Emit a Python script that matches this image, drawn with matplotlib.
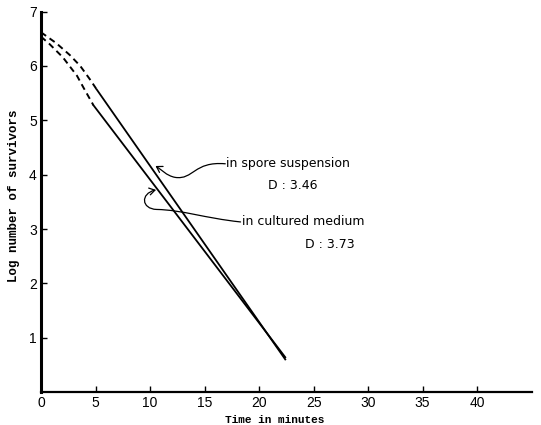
import numpy as np
import matplotlib
matplotlib.use("Agg")
import matplotlib.pyplot as plt
from matplotlib.path import Path
from matplotlib.patches import FancyArrowPatch

# spore suspension curve (upper line)
spore_t_dash = [0.0, 1.4, 2.65, 3.6, 4.5, 5.1]
spore_y_dash = [6.62, 6.42, 6.2, 6.0, 5.75, 5.57]
spore_t_solid = [5.1, 22.4]
spore_y_solid = [5.57, 0.6]

# cultured medium curve (lower line)
cult_t_dash = [0.0, 0.8, 2.0, 3.3, 3.9, 4.8]
cult_y_dash = [6.54, 6.4, 6.16, 5.82, 5.6, 5.28]
cult_t_solid = [4.8, 22.4]
cult_y_solid = [5.28, 0.64]

x_ticks = [0, 5, 10, 15, 20, 25, 30, 35, 40]
y_ticks = [1, 2, 3, 4, 5, 6, 7]

tick_font = ["Liberation Sans", "DejaVu Sans"]
mono_font = ["Liberation Mono", "DejaVu Sans Mono"]

fig = plt.figure(figsize=(5.41, 4.25), dpi=100)
ax = fig.add_axes([0.0758, 0.0776, 0.907, 0.895])

ax.plot(spore_t_dash, spore_y_dash, color="black", lw=1.4, ls=(0, (3.2, 2.2)))
ax.plot(spore_t_solid, spore_y_solid, color="black", lw=1.3)
ax.plot(cult_t_dash, cult_y_dash, color="black", lw=1.4, ls=(0, (3.2, 2.2)))
ax.plot(cult_t_solid, cult_y_solid, color="black", lw=1.3)

ax.set_xlim(0, 45)
ax.set_ylim(0, 7)
ax.set_xticks(x_ticks)
ax.set_yticks(y_ticks)
ax.set_xticklabels([str(v) for v in x_ticks], fontsize=10, family=tick_font)
ax.set_yticklabels([str(v) for v in y_ticks], fontsize=10, family=tick_font)
ax.tick_params(direction="in", length=4, width=1, pad=3)

for s in ["top", "right"]:
    ax.spines[s].set_visible(False)
ax.spines["left"].set_linewidth(2.2)
ax.spines["bottom"].set_linewidth(1.6)

ax.set_xlabel("Time in minutes", family=mono_font, fontsize=8, weight="bold")
ax.xaxis.set_label_coords(21.4 / 45, -0.06)
ax.set_ylabel("Log number of survivors", family=mono_font, fontsize=9, weight="bold")
ax.yaxis.set_label_coords(-0.042, 0.515)

# labels
ax.text(17.0, 4.2, "in spore suspension", fontsize=9, va="center", ha="left")
ax.text(20.8, 3.8, "D : 3.46", fontsize=9, va="center", ha="left")
ax.text(18.4, 3.13, "in cultured medium", fontsize=9, va="center", ha="left")
ax.text(24.2, 2.72, "D : 3.73", fontsize=9, va="center", ha="left")

# curly pointers
p1 = Path([(16.9, 4.2), (14.0, 4.25), (14.0, 3.9), (12.3, 3.95),
           (11.5, 3.98), (11.0, 4.1), (10.5, 4.16)],
          [Path.MOVETO, Path.CURVE4, Path.CURVE4, Path.CURVE4,
           Path.CURVE4, Path.CURVE4, Path.CURVE4])
p2 = Path([(18.3, 3.13), (15.0, 3.2), (13.0, 3.35), (10.6, 3.36),
           (9.2, 3.37), (9.1, 3.65), (10.55, 3.72)],
          [Path.MOVETO, Path.CURVE4, Path.CURVE4, Path.CURVE4,
           Path.CURVE4, Path.CURVE4, Path.CURVE4])
for p in [p1, p2]:
    ax.add_patch(FancyArrowPatch(path=p, arrowstyle="->,head_length=4,head_width=2.5",
                                 color="black", lw=0.9))

fig.savefig("out.png", dpi=100)
